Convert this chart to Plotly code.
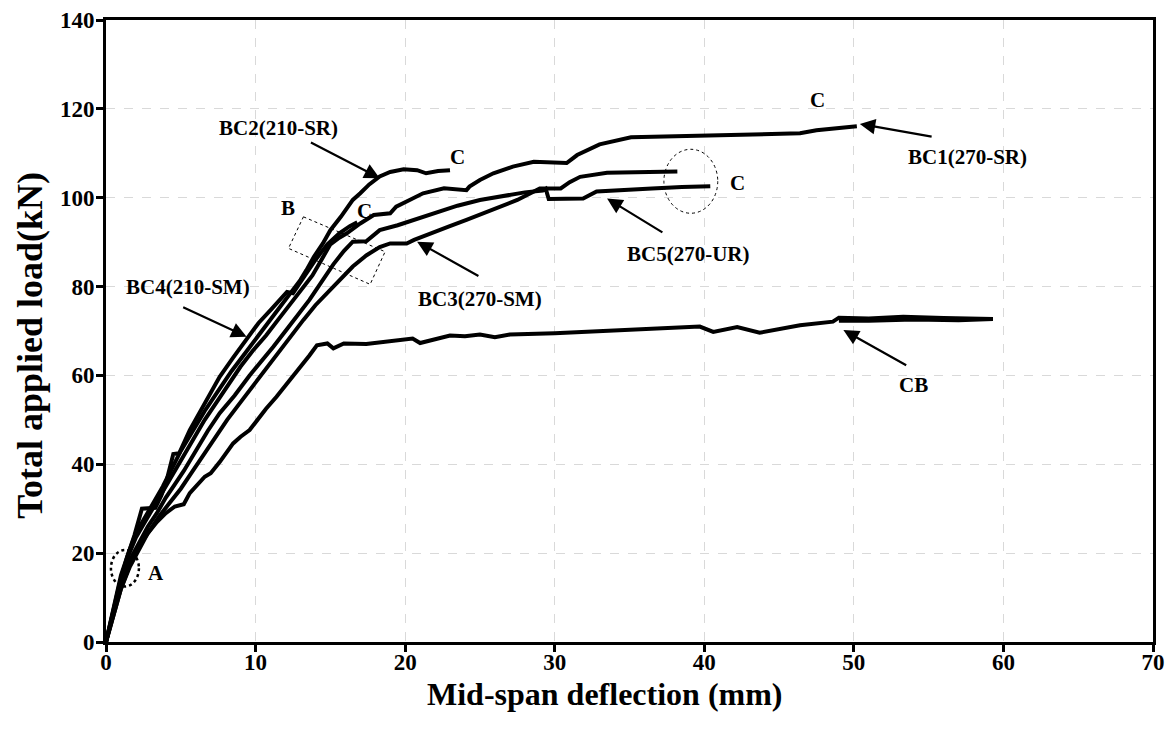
import plotly.graph_objects as go

# mid-span deflection (mm) / total applied load (kN)
bc1_x = [0, 0.5, 1.0, 1.5, 2.0, 2.6, 3.2, 3.8, 4.4, 5.0, 5.8, 6.6, 7.4, 8.2, 9.0, 9.8, 10.7, 11.5,
         12.3, 13.0, 13.8, 14.4, 15.0, 15.6, 16.1, 17.0, 17.9, 19.0, 19.4, 20.3, 21.2, 22.6, 24.1,
         24.3, 25.0, 25.9, 27.2, 28.6, 30.8, 31.5, 33.0, 35.1, 40.0, 46.4, 47.5, 49.0, 50.2]
bc1_y = [0, 7, 14, 19.5, 23.5, 27, 30.5, 34, 37.5, 41, 45.5, 50, 54, 58, 62, 65.5, 69, 72.5,
         76, 78.8, 82.5, 86, 89.5, 91, 92, 94.2, 96.1, 96.5, 98, 99.5, 101, 102.1, 101.7,
         102.5, 104, 105.5, 107, 108.1, 107.8, 109.6, 112, 113.6, 114, 114.5, 115.2, 115.6, 116.1]

bc2_x = [0, 0.5, 1.0, 1.5, 2.0, 2.6, 3.2, 3.8, 4.4, 5.0, 5.8, 6.6, 7.5, 8.4, 9.3, 10.2, 11.0, 11.8,
         12.6, 13.0, 13.4, 13.9, 14.5, 15.0, 15.7, 16.5, 17.0, 17.6, 18.3, 19.0, 19.9, 20.8, 21.4,
         22.2, 23.0]
bc2_y = [0, 8, 15, 20, 24.5, 28, 31.5, 35, 39, 43, 47.5, 52, 56.5, 61, 65, 69, 72.5, 76,
         79.5, 81.5, 83.7, 86.7, 89.7, 92.7, 95.7, 99.5, 101, 103, 104.8, 105.8, 106.4, 106.2, 105.5,
         106, 106.2]

bc3_x = [0, 0.5, 1.0, 1.6, 2.2, 2.9, 3.6, 4.3, 5.0, 5.7, 6.5, 7.3, 8.1, 9.0, 9.9, 10.8, 11.6, 12.4,
         13.2, 14.0, 14.8, 15.6, 16.5, 17.4, 18.3, 19.0, 20.1, 20.6, 21.7, 22.9, 24.1, 25.2, 26.4,
         27.5, 29.0, 30.4, 31.0, 31.7, 33.5, 35.5, 38.2]
bc3_y = [0, 6, 12, 17.5, 21.5, 25, 28.5, 31.5, 34.5, 38, 42, 46, 50, 54, 58, 62, 65.5, 69,
         72.5, 75.8, 78.5, 81.5, 84.5, 87, 88.9, 89.7, 89.7, 90.5, 92, 93.5, 95, 96.5, 98,
         99.5, 102.1, 102.1, 103.5, 104.7, 105.6, 105.8, 105.9]

bc4_x = [0, 0.4, 0.9, 1.4, 1.9, 2.4, 3.3, 3.7, 4.0, 4.5, 4.9, 5.6, 6.7, 7.6, 8.5, 9.4, 10.2, 11.0,
         11.7, 12.1, 12.5, 13.2, 14.0, 14.8, 15.6, 16.3, 16.8]
bc4_y = [0, 6, 13, 19, 24, 30, 30.2, 33, 35.7, 42.3, 42.5, 47.7, 54.5, 59.7, 64, 68.3, 71.8, 74.7,
         77.3, 78.8, 78.5, 82, 86, 89.5, 92, 93.6, 94.5]

bc5_x = [0, 0.5, 1.0, 1.6, 2.2, 2.8, 3.4, 4.0, 4.6, 5.2, 6.0, 6.8, 7.6, 8.6, 9.6, 10.5, 11.2, 12.0,
         12.8, 13.6, 14.4, 15.2, 15.9, 16.5, 17.4, 18.3, 19.5, 20.6, 22.0, 23.5, 25.0, 26.4, 28.0,
         29.2, 29.4, 29.6, 30.5, 31.9, 32.8, 34.5, 36.5, 38.5, 40.4]
bc5_y = [0, 6.5, 13, 18.5, 22.5, 26, 29, 32.5, 35.5, 38.5, 43, 47.5, 51.5, 55.5, 60, 63.5, 66.5, 70,
         73.5, 77, 81, 85, 88, 90.1, 90.2, 92.7, 93.8, 95, 96.6, 98.2, 99.5, 100.3, 101.2,
         101.6, 102, 99.7, 99.7, 99.8, 101.4, 101.8, 102.1, 102.4, 102.6]

cb_x = [0, 0.5, 1.0, 1.6, 2.2, 2.8, 3.4, 4.0, 4.6, 5.2, 5.6, 6.1, 6.6, 7.0, 7.6, 8.5, 9.0, 9.6,
        10.3, 10.7, 11.4, 12.2, 13.0, 13.6, 14.1, 14.8, 15.2, 15.9, 17.4, 18.5, 19.7, 20.5, 21.0,
        22.0, 23.0, 24.0, 25.0, 26.0, 27.0, 30.0, 33.0, 36.0, 39.0, 39.7, 40.6, 42.2, 43.7, 46.4,
        48.6, 49.0, 51.0, 53.3, 56.0, 59.3, 57.0, 54.0, 51.0, 49.0]
cb_y = [0, 6, 12, 17, 21, 24.5, 27, 29, 30.5, 31, 33.5, 35.5, 37.2, 38, 40.5, 44.7, 46.2, 47.7,
        51, 52.5, 55.2, 58.5, 62, 64.5, 66.8, 67.2, 66.1, 67.2, 67.1, 67.6, 68, 68.3, 67.3,
        68.2, 69, 68.8, 69.2, 68.6, 69.2, 69.5, 70, 70.4, 71, 71, 69.8, 70.9, 69.6, 71.3,
        72.1, 73, 72.8, 73.2, 72.9, 72.7, 72.4, 72.6, 72.3, 72.3]

curves = [
    ("BC1(270-SR)", bc1_x, bc1_y),
    ("BC2(210-SR)", bc2_x, bc2_y),
    ("BC3(270-SM)", bc3_x, bc3_y),
    ("BC4(210-SM)", bc4_x, bc4_y),
    ("BC5(270-UR)", bc5_x, bc5_y),
    ("CB", cb_x, cb_y),
]

# label text, label position, arrow tail, arrow tip
labels = [
    ("BC2(210-SR)", 11.5, 115.7, 13.6, 112.6, 18.3, 104.4),
    ("BC1(270-SR)", 57.6, 109.2, 55.3, 113.7, 50.4, 116.6),
    ("BC5(270-UR)", 38.9, 87.3, 37.3, 92.0, 33.5, 99.8),
    ("BC3(270-SM)", 25.0, 77.2, 25.0, 82.2, 20.8, 90.1),
    ("BC4(210-SM)", 5.5, 79.9, 5.06, 75.5, 9.4, 68.7),
    ("CB", 54.0, 57.8, 53.6, 62.1, 49.3, 70.2),
]
marks = [("C", 47.6, 122.0), ("C", 42.2, 103.3), ("C", 23.5, 109.2), ("C", 17.3, 97.0),
         ("B", 12.2, 97.7), ("A", 3.35, 15.5)]

FONT = "Liberation Serif, Times New Roman, serif"

fig = go.Figure()
for name, xs, ys in curves:
    fig.add_trace(go.Scatter(x=xs, y=ys, mode="lines", name=name,
                             line=dict(color="black", width=4), showlegend=False))

for text, lx, ly, tx, ty, hx, hy in labels:
    fig.add_annotation(x=lx, y=ly, text=text, showarrow=False,
                       font=dict(family=FONT, size=21, color="black", weight="bold"))
    fig.add_annotation(x=hx, y=hy, ax=tx, ay=ty, axref="x", ayref="y", text="",
                       showarrow=True, arrowhead=2, arrowsize=1.4, arrowwidth=2.2,
                       arrowcolor="black")
for text, lx, ly in marks:
    fig.add_annotation(x=lx, y=ly, text=text, showarrow=False,
                       font=dict(family=FONT, size=21, color="black", weight="bold"))

# axis titles as paper annotations so they sit where the reference puts them
fig.add_annotation(x=0.4766, y=-0.0836, xref="paper", yref="paper", text="Mid-span deflection (mm)",
                   showarrow=False, yanchor="middle",
                   font=dict(family=FONT, size=32, color="black", weight="bold"))
fig.add_annotation(x=-0.0726, y=0.478, xref="paper", yref="paper", text="Total applied load(kN)",
                   showarrow=False, textangle=-90, xanchor="center", yanchor="middle",
                   font=dict(family=FONT, size=36, color="black", weight="bold"))

# dotted highlight regions
fig.add_shape(type="circle", x0=0.33, x1=2.2, y0=12.5, y1=20.7,
              line=dict(color="black", width=2.5, dash="dot"))
fig.add_shape(type="circle", x0=37.3, x1=40.9, y0=96.5, y1=110.9,
              line=dict(color="black", width=1, dash="dot"))
fig.add_shape(type="path", path="M 13.2 95.7 L 18.66 87.85 L 17.66 80.5 L 12.2 88.6 Z",
              line=dict(color="black", width=1, dash="dot"))

axis_style = dict(
    showline=True, linewidth=3, linecolor="black", mirror=True,
    ticks="outside", ticklen=7, tickwidth=3, tickcolor="black",
    showgrid=True, gridcolor="#d9d9d9", gridwidth=1, griddash="dash",
    zeroline=False, automargin=False,
    tickfont=dict(family=FONT, size=23, color="black", weight="bold"),
)
fig.update_xaxes(range=[0, 70], dtick=10, ticklabelstandoff=-10, **axis_style)
fig.update_yaxes(range=[0, 140], dtick=20, ticklabelstandoff=-3, **axis_style)
# the page body adds an 8 px margin, so the figure is 8 px narrower/shorter
fig.update_layout(
    width=1166, height=729,
    margin=dict(l=98, r=21, t=12, b=95),
    plot_bgcolor="white", paper_bgcolor="white",
)
fig.write_html("out.html")
